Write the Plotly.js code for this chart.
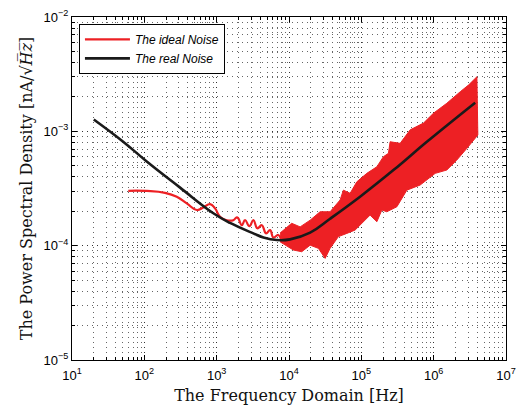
<!DOCTYPE html>
<html>
<head>
<meta charset="utf-8">
<script src="https://cdn.plot.ly/plotly-3.0.1.min.js"></script>
<style>html,body{margin:0;padding:0;background:#fff;}#chart{width:516px;height:412px;}</style>
</head>
<body>
<div id="chart"></div>
<script>
// Ideal noise: smooth low-frequency part (Hz, nA/sqrt(Hz))
var idealFreq = [60, 108, 193, 281, 386, 531, 655, 811, 950, 1114, 1379, 1702, 1897, 1995, 2223, 2471, 2833, 3218, 3656, 4207, 4821, 5480, 6085, 7129, 7948, 9333];
var idealPsd  = [3.02e-4, 3.01e-4, 2.90e-4, 2.68e-4, 2.34e-4, 2.05e-4, 2.16e-4, 2.31e-4, 2.12e-4, 1.79e-4, 1.67e-4, 1.67e-4, 1.77e-4, 1.73e-4, 1.51e-4, 1.67e-4, 1.48e-4, 1.67e-4, 1.42e-4, 1.51e-4, 1.28e-4, 1.37e-4, 1.18e-4, 1.24e-4, 1.135e-4, 1.20e-4];

// Ideal noise: high-frequency noisy band, upper and lower envelopes
var noiseUpFreq = [7530, 10900, 14250, 19600, 26900, 37000, 50900, 56500, 70000, 86700, 119000, 164000, 202000, 237000, 250000, 344000, 473000, 723000, 993000, 1520000, 2330000, 3030000, 3960000];
var noiseUpPsd  = [1.29e-4, 1.57e-4, 1.46e-4, 1.67e-4, 1.98e-4, 1.98e-4, 2.51e-4, 3.06e-4, 2.87e-4, 3.62e-4, 4.29e-4, 4.90e-4, 6.00e-4, 6.42e-4, 8.11e-4, 7.85e-4, 1.03e-3, 1.18e-3, 1.44e-3, 1.76e-3, 2.22e-3, 2.54e-3, 3.0e-3];
var noiseLoFreq = [7530, 11500, 15000, 19600, 25500, 31600, 37000, 48200, 63000, 82100, 107000, 132000, 164000, 192000, 225000, 310000, 426000, 650000, 1050000, 1520000, 2090000, 2880000, 4080000];
var noiseLoPsd  = [1.08e-4, 9.16e-5, 8.85e-5, 1.01e-4, 9.47e-5, 7.74e-5, 9.47e-5, 1.20e-4, 1.28e-4, 1.37e-4, 1.62e-4, 1.85e-4, 1.62e-4, 2.05e-4, 1.98e-4, 2.19e-4, 3.06e-4, 3.39e-4, 4.29e-4, 4.59e-4, 5.61e-4, 7.10e-4, 9.28e-4];

// Real noise
var realFreq = [20, 50, 108, 312, 900, 1530, 3218, 4426, 6780, 10350, 19600, 37000, 96000, 278000, 805000, 3750000];
var realPsd  = [1.27e-3, 8.2e-4, 5.45e-4, 3.22e-4, 1.92e-4, 1.58e-4, 1.28e-4, 1.18e-4, 1.12e-4, 1.135e-4, 1.30e-4, 1.72e-4, 2.68e-4, 4.58e-4, 8.1e-4, 1.78e-3];

// Axis ticks
var xTickVals = [1e1, 1e2, 1e3, 1e4, 1e5, 1e6, 1e7];
var xTickText = ['10<sup>1</sup>', '10<sup>2</sup>', '10<sup>3</sup>', '10<sup>4</sup>', '10<sup>5</sup>', '10<sup>6</sup>', '10<sup>7</sup>'];
var yTickVals = [1e-5, 1e-4, 1e-3, 1e-2];
var yTickText = ['10<sup>\u22125</sup>', '10<sup>\u22124</sup>', '10<sup>\u22123</sup>', '10<sup>\u22122</sup>'];

function minorVals(d0, d1) {
  var out = [];
  for (var d = d0; d < d1; d++) for (var k = 2; k <= 9; k++) out.push(k * Math.pow(10, d));
  return out;
}

var red = 'rgb(237,32,36)';

var bandX = noiseUpFreq.concat(noiseLoFreq.slice().reverse());
var bandY = noiseUpPsd.concat(noiseLoPsd.slice().reverse());

var traces = [
  {x: idealFreq, y: idealPsd, type: 'scatter', mode: 'lines', name: '<i>The ideal Noise</i>',
   line: {color: red, width: 2.2, shape: 'spline', smoothing: 1.3}},
  {x: bandX, y: bandY, type: 'scatter', mode: 'lines', fill: 'toself', fillcolor: red,
   line: {color: red, width: 1}, showlegend: false, hoverinfo: 'skip'},
  {x: realFreq, y: realPsd, type: 'scatter', mode: 'lines', name: '<i>The real Noise</i>',
   line: {color: '#1a1a1a', width: 2.6, shape: 'spline', smoothing: 1.2}}
];

var dash = '1px,4px';
var titleFont = {family: 'DejaVu Serif, Liberation Serif, serif', size: 16, color: '#111'};

function axis(extra, minorTicks) {
  return Object.assign({
    type: 'log', showline: true, linecolor: '#000', linewidth: 1, mirror: 'ticks',
    ticks: 'inside', ticklen: 5, tickcolor: '#000',
    showgrid: true, gridcolor: '#333', griddash: dash, gridwidth: 1,
    zeroline: false,
    tickfont: {family: 'Liberation Sans, Arial, sans-serif', size: 13, color: '#000'},
    minor: {tickmode: 'array', tickvals: minorTicks, ticks: 'inside', ticklen: 3, tickcolor: '#000',
            showgrid: true, gridcolor: '#666', griddash: dash, gridwidth: 1}
  }, extra);
}

var layout = {
  width: 516, height: 412,
  margin: {l: 72, r: 10, t: 17, b: 52},
  paper_bgcolor: '#fff', plot_bgcolor: '#fff',
  showlegend: true,
  legend: {x: 0.016, y: 0.98, xanchor: 'left', yanchor: 'top', bgcolor: '#fff',
           bordercolor: '#000', borderwidth: 1, itemwidth: 45,
           font: {family: 'Liberation Sans, Arial, sans-serif', size: 12, color: '#000'},
           tracegroupgap: 0},
  xaxis: axis({
    range: [1, 7], tickvals: xTickVals, ticktext: xTickText, ticklabelstandoff: 3,
    title: {text: 'The Frequency Domain [Hz]', standoff: 8, font: titleFont}
  }, minorVals(1, 7)),
  yaxis: axis({
    range: [-5, -2], tickvals: yTickVals, ticktext: yTickText,
    title: {text: 'The Power Spectral Density [nA/\u221A<i>H\u0305z\u0305</i>]', standoff: 6, font: titleFont}
  }, minorVals(-5, -2))
};

Plotly.newPlot('chart', traces, layout, {displayModeBar: false, staticPlot: true});
</script>
</body>
</html>
